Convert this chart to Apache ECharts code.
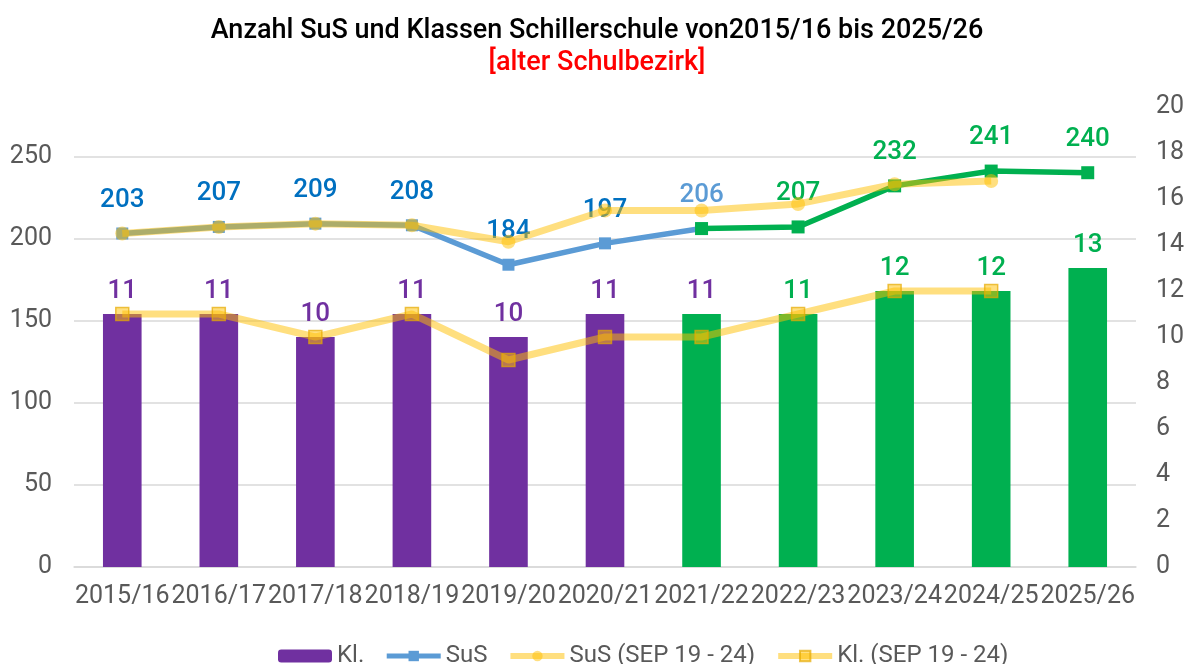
<!DOCTYPE html>
<html>
<head>
<meta charset="utf-8">
<title>Anzahl SuS und Klassen Schillerschule</title>
<script src="https://cdn.jsdelivr.net/npm/echarts@6/dist/echarts.min.js"></script>
<style>
  html, body { margin: 0; padding: 0; background: #fff; }
  #chart { width: 1194px; height: 664px; }
</style>
</head>
<body>
<div id="chart"></div>
<script>
// Schuljahre
var categories = ['2015/16', '2016/17', '2017/18', '2018/19', '2019/20', '2020/21',
    '2021/22', '2022/23', '2023/24', '2024/25', '2025/26'];
// Klassen (Balken, rechte Achse)
var klassen = [11, 11, 10, 11, 10, 11, 11, 11, 12, 12, 13];
// SuS (linke Achse)
var sus = [203, 207, 209, 208, 184, 197, 206, 207, 232, 241, 240];
// Prognose SEP 19 - 24
var susSep = [203, 207, 209, 208, 198, 217, 217, 221, 233, 235];
var klSep = [11, 11, 10, 11, 9, 10, 10, 11, 12, 12];
// ab diesem Index gruen
var splitIndex = 6;

var PURPLE = '#7030A0', GREEN = '#00B050', BLUE = '#5B9BD5', DARKBLUE = '#0070C0';
var GOLD = 'rgba(255,192,0,0.5)';
var GRAY = '#595959';
var FONT = 'Roboto';

var barData = klassen.map(function (v, i) {
    var c = i < splitIndex ? PURPLE : GREEN;
    // Beschriftung 2021/22 noch lila
    var lc = i <= splitIndex ? PURPLE : GREEN;
    return { value: v, itemStyle: { color: c }, label: { color: lc } };
});
var susBlue = sus.map(function (v, i) {
    if (i > splitIndex) return '-';
    if (i === splitIndex) return { value: v, label: { color: BLUE } };
    return v;
});
var susGreen = sus.map(function (v, i) {
    if (i < splitIndex) return '-';
    if (i === splitIndex) return { value: v, label: { show: false } };
    return v;
});

var option = {
    animation: false,
    textStyle: { fontFamily: FONT },
    title: [{
        text: 'Anzahl SuS und Klassen Schillerschule von2015/16 bis 2025/26',
        left: 'center', top: 13,
        textStyle: { fontSize: 27, fontWeight: 500, color: '#000', fontFamily: FONT }
    }, {
        text: '[alter Schulbezirk]',
        left: 'center', top: 45,
        textStyle: { fontSize: 27, fontWeight: 500, color: '#FF0000', fontFamily: FONT }
    }],
    legend: {
        top: 639, left: 273,
        itemWidth: 54, itemHeight: 13, itemGap: 20,
        textStyle: { fontSize: 24, color: GRAY, fontFamily: FONT },
        data: [
            { name: 'Kl.' },
            { name: 'SuS', lineStyle: { width: 5 } },
            { name: 'SuS (SEP 19 - 24)', lineStyle: { width: 6 } },
            { name: 'Kl. (SEP 19 - 24)', lineStyle: { width: 6 } }
        ]
    },
    grid: { left: 74, right: 58, top: 107, height: 460, containLabel: false },
    xAxis: {
        type: 'category',
        data: categories,
        axisLine: { lineStyle: { color: '#D9D9D9', width: 1.5 } },
        axisTick: { show: false },
        axisLabel: { interval: 0, fontSize: 25, color: GRAY, margin: 17, fontFamily: FONT }
    },
    yAxis: [{
        type: 'value', min: 0, max: 280, interval: 50,
        axisLine: { show: false }, axisTick: { show: false },
        axisLabel: { fontSize: 25, color: GRAY, margin: 22, showMaxLabel: false, fontFamily: FONT },
        splitLine: { showMaxLine: false, lineStyle: { color: '#D9D9D9', width: 1.5 } }
    }, {
        type: 'value', min: 0, max: 20, interval: 2,
        axisLine: { show: false }, axisTick: { show: false },
        axisLabel: { fontSize: 25, color: GRAY, margin: 20, fontFamily: FONT },
        splitLine: { show: false }
    }],
    series: [{
        name: 'Kl.', type: 'bar', yAxisIndex: 1,
        barWidth: '40%',
        itemStyle: { color: PURPLE },
        label: { show: true, position: 'top', distance: 10, fontSize: 26, fontWeight: 500, fontFamily: FONT },
        data: barData,
        z: 1
    }, {
        name: 'SuS', type: 'line', yAxisIndex: 0,
        symbol: 'rect', symbolSize: 12,
        lineStyle: { color: BLUE, width: 5.5 },
        itemStyle: { color: BLUE },
        label: { show: true, position: 'top', distance: 14, fontSize: 26, fontWeight: 500, color: DARKBLUE, fontFamily: FONT },
        data: susBlue,
        z: 3
    }, {
        name: 'SuS gruen', type: 'line', yAxisIndex: 0,
        symbol: 'rect', symbolSize: 13,
        lineStyle: { color: GREEN, width: 5.5 },
        itemStyle: { color: GREEN },
        label: { show: true, position: 'top', distance: 14, fontSize: 26, fontWeight: 500, color: GREEN, fontFamily: FONT },
        data: susGreen,
        z: 4
    }, {
        name: 'SuS (SEP 19 - 24)', type: 'line', yAxisIndex: 0,
        symbol: 'circle', symbolSize: 14,
        lineStyle: { color: GOLD, width: 7 },
        itemStyle: { color: GOLD },
        data: susSep,
        z: 5
    }, {
        name: 'Kl. (SEP 19 - 24)', type: 'line', yAxisIndex: 1,
        symbol: 'rect', symbolSize: 13,
        lineStyle: { color: GOLD, width: 7 },
        itemStyle: { color: GOLD, borderColor: 'rgba(230,170,0,0.7)', borderWidth: 1.5 },
        data: klSep,
        z: 5
    }]
};

var chart = echarts.init(document.getElementById('chart'));
chart.setOption(option);
</script>
</body>
</html>
